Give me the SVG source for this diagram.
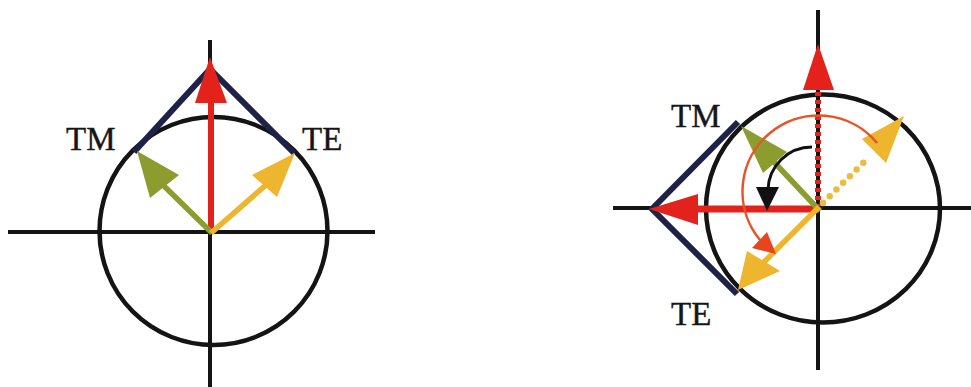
<svg xmlns="http://www.w3.org/2000/svg" width="971" height="387" viewBox="0 0 971 387">
  <style>
    .axis { stroke: #141414; stroke-width: 4; fill: none; }
    .circ { stroke: #141414; stroke-width: 4.5; fill: none; }
    .navy { stroke: #1e2148; stroke-width: 6; fill: none; stroke-linejoin: miter; }
    .red { fill: #e3221c; }
    .redS { stroke: #e3221c; fill: none; }
    .green { fill: #8c9c2e; }
    .greenS { stroke: #8c9c2e; fill: none; stroke-width: 5.5; }
    .yellow { fill: #eeb52e; }
    .yellowS { stroke: #eeb52e; fill: none; stroke-width: 5.5; }
    .lbl { font-family: "Liberation Serif", "Times New Roman", serif; font-size: 33px; fill: #161616; stroke: #161616; stroke-width: 0.4; }
  </style>
  <rect width="971" height="387" fill="#ffffff"/>

  <g id="left-panel">
    <g id="left-axes">
      <line class="axis" x1="210" y1="40" x2="210" y2="387"/>
      <line class="axis" x1="8" y1="232" x2="375" y2="232"/>
    </g>
    <circle id="left-circle" class="circ" cx="213.5" cy="231" r="114"/>
    <g id="left-connectors">
      <polyline id="left-navy" class="navy" points="134,152 210,69 294,153"/>
      <g id="left-red">
        <line class="redS" stroke-width="6" x1="211" y1="101" x2="211" y2="229"/>
        <polygon class="red" points="210,57 195,103 227,103"/>
      </g>
      <g id="left-green">
        <line class="greenS" x1="164" y1="186" x2="212" y2="233"/>
        <polygon class="green" points="137,151 150,198 179,175"/>
      </g>
      <g id="left-yellow">
        <line class="yellowS" x1="266" y1="185" x2="211" y2="233"/>
        <polygon class="yellow" points="295,153 252,175 277,197"/>
      </g>
    </g>
    <text id="left-tm" class="lbl" x="66" y="150">TM</text>
    <text id="left-te" class="lbl" x="302" y="150">TE</text>
  </g>

  <g id="right-panel">
    <g id="right-axes">
      <line class="axis" x1="818" y1="10" x2="818" y2="370"/>
      <line class="axis" x1="613" y1="208" x2="971" y2="208"/>
    </g>
    <ellipse id="right-circle" class="circ" cx="823" cy="208.5" rx="117" ry="114"/>
    <g id="right-connectors">
      <polyline id="right-navy" class="navy" points="738,122 652,209 737,294"/>
      <g id="right-red-dotted">
        <line class="redS" stroke-width="6" stroke-dasharray="4 4" x1="818" y1="92" x2="818" y2="206"/>
        <polygon class="red" points="818,44 803,90 834,90"/>
      </g>
      <g id="right-red-left">
        <line class="redS" stroke-width="7" x1="696" y1="209" x2="818" y2="209"/>
        <polygon class="red" points="649,209 698,194 698,225"/>
      </g>
      <g id="right-green">
        <line class="greenS" stroke-width="6" x1="774" y1="162" x2="820" y2="211"/>
        <polygon class="green" points="741,126 763,173 787,152"/>
      </g>
      <g id="right-yellow-solid">
        <line class="yellowS" stroke-width="6" x1="764" y1="262" x2="819" y2="207"/>
        <polygon class="yellow" points="738,290 747,251 780,271"/>
      </g>
      <g id="right-yellow-dotted">
        <line stroke="#ecbd3c" stroke-width="6.5" stroke-linecap="round" stroke-dasharray="0 9.5" x1="823" y1="203" x2="868" y2="158"/>
        <polygon class="yellow" points="904,116 862,139 886,163"/>
      </g>
      <g id="right-orange-arc">
        <path d="M 877 143 A 75 75 0 0 0 760 240" stroke="#e85428" stroke-width="2.5" fill="none"/>
        <polygon fill="#e8441e" points="776,254 752,248 767,232"/>
      </g>
      <g id="right-black-arc">
        <path d="M 812 147 A 44 44 0 0 0 768 190" stroke="#111" stroke-width="3" fill="none"/>
        <polygon fill="#111" points="767,211 756,187 779,187"/>
      </g>
    </g>
    <text id="right-tm" class="lbl" x="671" y="127">TM</text>
    <text id="right-te" class="lbl" x="671" y="325">TE</text>
  </g>
</svg>
